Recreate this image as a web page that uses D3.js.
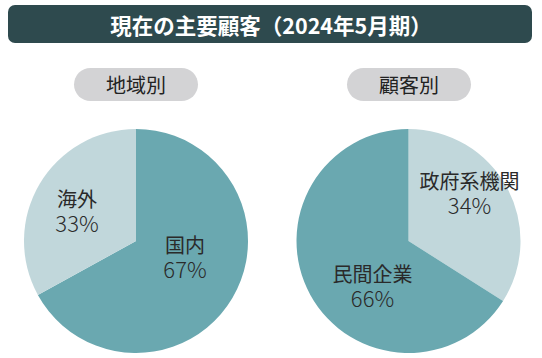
<!DOCTYPE html>
<html><head><meta charset="utf-8">
<script src="https://cdn.jsdelivr.net/npm/d3@7"></script>
<style>html,body{margin:0;padding:0;background:#fff;}svg{display:block;}</style>
</head><body>
<svg id="c" width="542" height="358"></svg>
<script>
const title = "現在の主要顧客（2024年5月期）";
const chartTitles = ["地域別", "顧客別"];
const regionLabels = ["国内", "海外"];
const regionValues = [67, 33];
const customerLabels = ["政府系機関", "民間企業"];
const customerValues = [34, 66];

const DARK = "#6aa8b0", LIGHT = "#c1d7db";
const svg = d3.select("#c");
const font = "'Noto Sans CJK JP','Noto Sans',sans-serif";

// title bar
svg.append("rect").attr("x", 8).attr("y", 5).attr("width", 524).attr("height", 38)
  .attr("rx", 7).attr("fill", "#2e4a4e");
svg.append("text").attr("x", 271).attr("y", 24.5).attr("text-anchor", "middle")
  .attr("dominant-baseline", "central").attr("fill", "#fff")
  .attr("font-family", font).attr("font-weight", 700).attr("font-size", 21.5).text(title);

function drawPie(cx, pillCx, name, labels, values, colors, labelPos) {
  svg.append("rect").attr("x", pillCx - 62).attr("y", 68).attr("width", 124).attr("height", 33)
    .attr("rx", 16.5).attr("fill", "#d3d3d5");
  svg.append("text").attr("x", pillCx).attr("y", 84.5).attr("text-anchor", "middle")
    .attr("dominant-baseline", "central").attr("fill", "#222")
    .attr("font-family", font).attr("font-size", 20).text(name);
  const g = svg.append("g").attr("transform", `translate(${cx},241)`);
  const pie = d3.pie().sort(null).value(d => d)(values);
  const arc = d3.arc().innerRadius(0).outerRadius(112);
  g.selectAll("path").data(pie).join("path").attr("d", arc).attr("fill", (d, i) => colors[i]);
  pie.forEach((d, i) => {
    const p = labelPos[i];
    g.append("text").attr("text-anchor", "middle").attr("fill", "#2a2a2a")
      .attr("font-family", font).attr("font-size", 20)
      .attr("x", p[0]).attr("y", p[1]).attr("dominant-baseline", "central").text(labels[i]);
    g.append("text").attr("text-anchor", "middle").attr("fill", "#2a2a2a")
      .attr("font-family", font).attr("font-size", 22).attr("font-weight", 300)
      .attr("x", p[0]).attr("y", p[1] + 23.5).attr("dominant-baseline", "central").text(values[i] + "%");
  });
}
drawPie(136, 136, chartTitles[0], regionLabels, regionValues, [DARK, LIGHT], [[49, 3.5], [-59, -43]]);
drawPie(408.5, 409, chartTitles[1], customerLabels, customerValues, [LIGHT, DARK], [[61, -61], [-36, 32]]);
</script>
</body></html>
